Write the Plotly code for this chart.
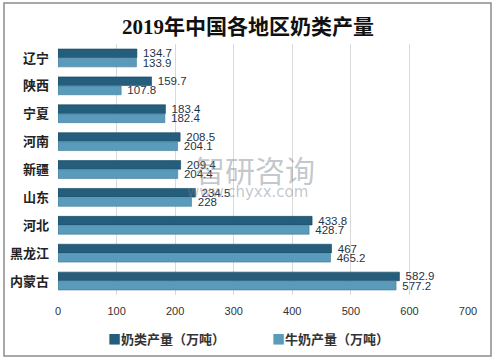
import plotly.graph_objects as go

regions = ["辽宁", "陕西", "宁夏", "河南", "新疆", "山东", "河北", "黑龙江", "内蒙古"]
milk_all = [134.7, 159.7, 183.4, 208.5, 209.4, 234.5, 433.8, 467, 582.9]
cow_milk = [133.9, 107.8, 182.4, 204.1, 204.4, 228, 428.7, 465.2, 577.2]
series_names = ["奶类产量（万吨）", "牛奶产量（万吨）"]
series_colors = ["#245e7c", "#5a9aba"]
x_ticks = [0, 100, 200, 300, 400, 500, 600, 700]

W, H = 496, 360
L, R, T, B = 58, 28, 44, 65
pw, ph = W - L - R, H - T - B

def px(xp):
    return (xp - L) / pw

def py(yp):
    return (H - B - yp) / ph

label_font = dict(family="Liberation Sans, Noto Sans CJK SC", size=11.5, color="#1f3347")

fig = go.Figure()
for vals, name, col, lc in [(milk_all, series_names[0], series_colors[0], "#134660"),
                            (cow_milk, series_names[1], series_colors[1], "#3f7a96")]:
    fig.add_trace(go.Bar(
        y=regions, x=vals, orientation="h", name=name, showlegend=False,
        marker=dict(color=col, line=dict(color=lc, width=0.6)),
        text=["\u00a0" + f"{v:g}" for v in vals], textposition="outside",
        constraintext="none", textfont=label_font, cliponaxis=False,
    ))

fig.update_layout(
    width=W, height=H,
    margin=dict(l=L, r=R, t=T, b=B, autoexpand=False),
    paper_bgcolor="white", plot_bgcolor="white",
    barmode="group", bargap=0.34, bargroupgap=0.06,
    title=dict(text="<b>2019年中国各地区奶类产量</b>", x=px(248), xanchor="center", xref="paper",
               y=1 - 27 / H, yanchor="middle",
               font=dict(family="Liberation Serif, Noto Sans CJK SC", size=21, color="#111111")),
    xaxis=dict(range=[0, 700], tickvals=x_ticks, showgrid=True, gridcolor="#d9d9d9",
               gridwidth=1, zeroline=False, showline=False, ticks="", automargin=False,
               tickfont=dict(family="Liberation Sans, Noto Sans", size=11, color="#333333"),
               ticklabelstandoff=8, tickprefix="<b>", ticksuffix="</b>"),
    yaxis=dict(autorange="reversed", showgrid=False, showline=False, ticks="", automargin=False,
               tickfont=dict(family="Noto Sans CJK SC", size=13, color="#222222"),
               ticklabelstandoff=8, tickprefix="<b>", ticksuffix="</b>"),
    showlegend=False,
    font=dict(family="Noto Sans CJK SC"),
)

# legend drawn as text with coloured square glyphs
for name, col, xl in zip(series_names, series_colors, [106, 270]):
    fig.add_annotation(
        text=f"<span style='color:{col}'>■</span><b>{name}</b>",
        xref="paper", yref="paper", x=px(xl), y=py(338), xanchor="left", yanchor="middle",
        showarrow=False, font=dict(family="Noto Sans CJK SC", size=13, color="#333333"))

# outer frame
fig.add_shape(type="rect", xref="paper", yref="paper",
              x0=px(4), x1=px(491), y0=py(356), y1=py(3),
              line=dict(color="#8c8c8c", width=1.5), fillcolor="rgba(0,0,0,0)", layer="below")

# watermark
fig.add_annotation(text="智研咨询", xref="paper", yref="paper", x=px(255), y=py(169),
                   showarrow=False, font=dict(family="Noto Sans CJK SC", size=30, color="rgba(120,130,140,0.45)"))
fig.add_annotation(text="www.chyxx.com", xref="paper", yref="paper", x=px(247), y=py(192),
                   showarrow=False, font=dict(family="DejaVu Sans", size=15, color="rgba(120,130,140,0.45)"))

fig.write_html("out.html", config={"displayModeBar": False},
               post_script="document.body.style.margin='0';")
